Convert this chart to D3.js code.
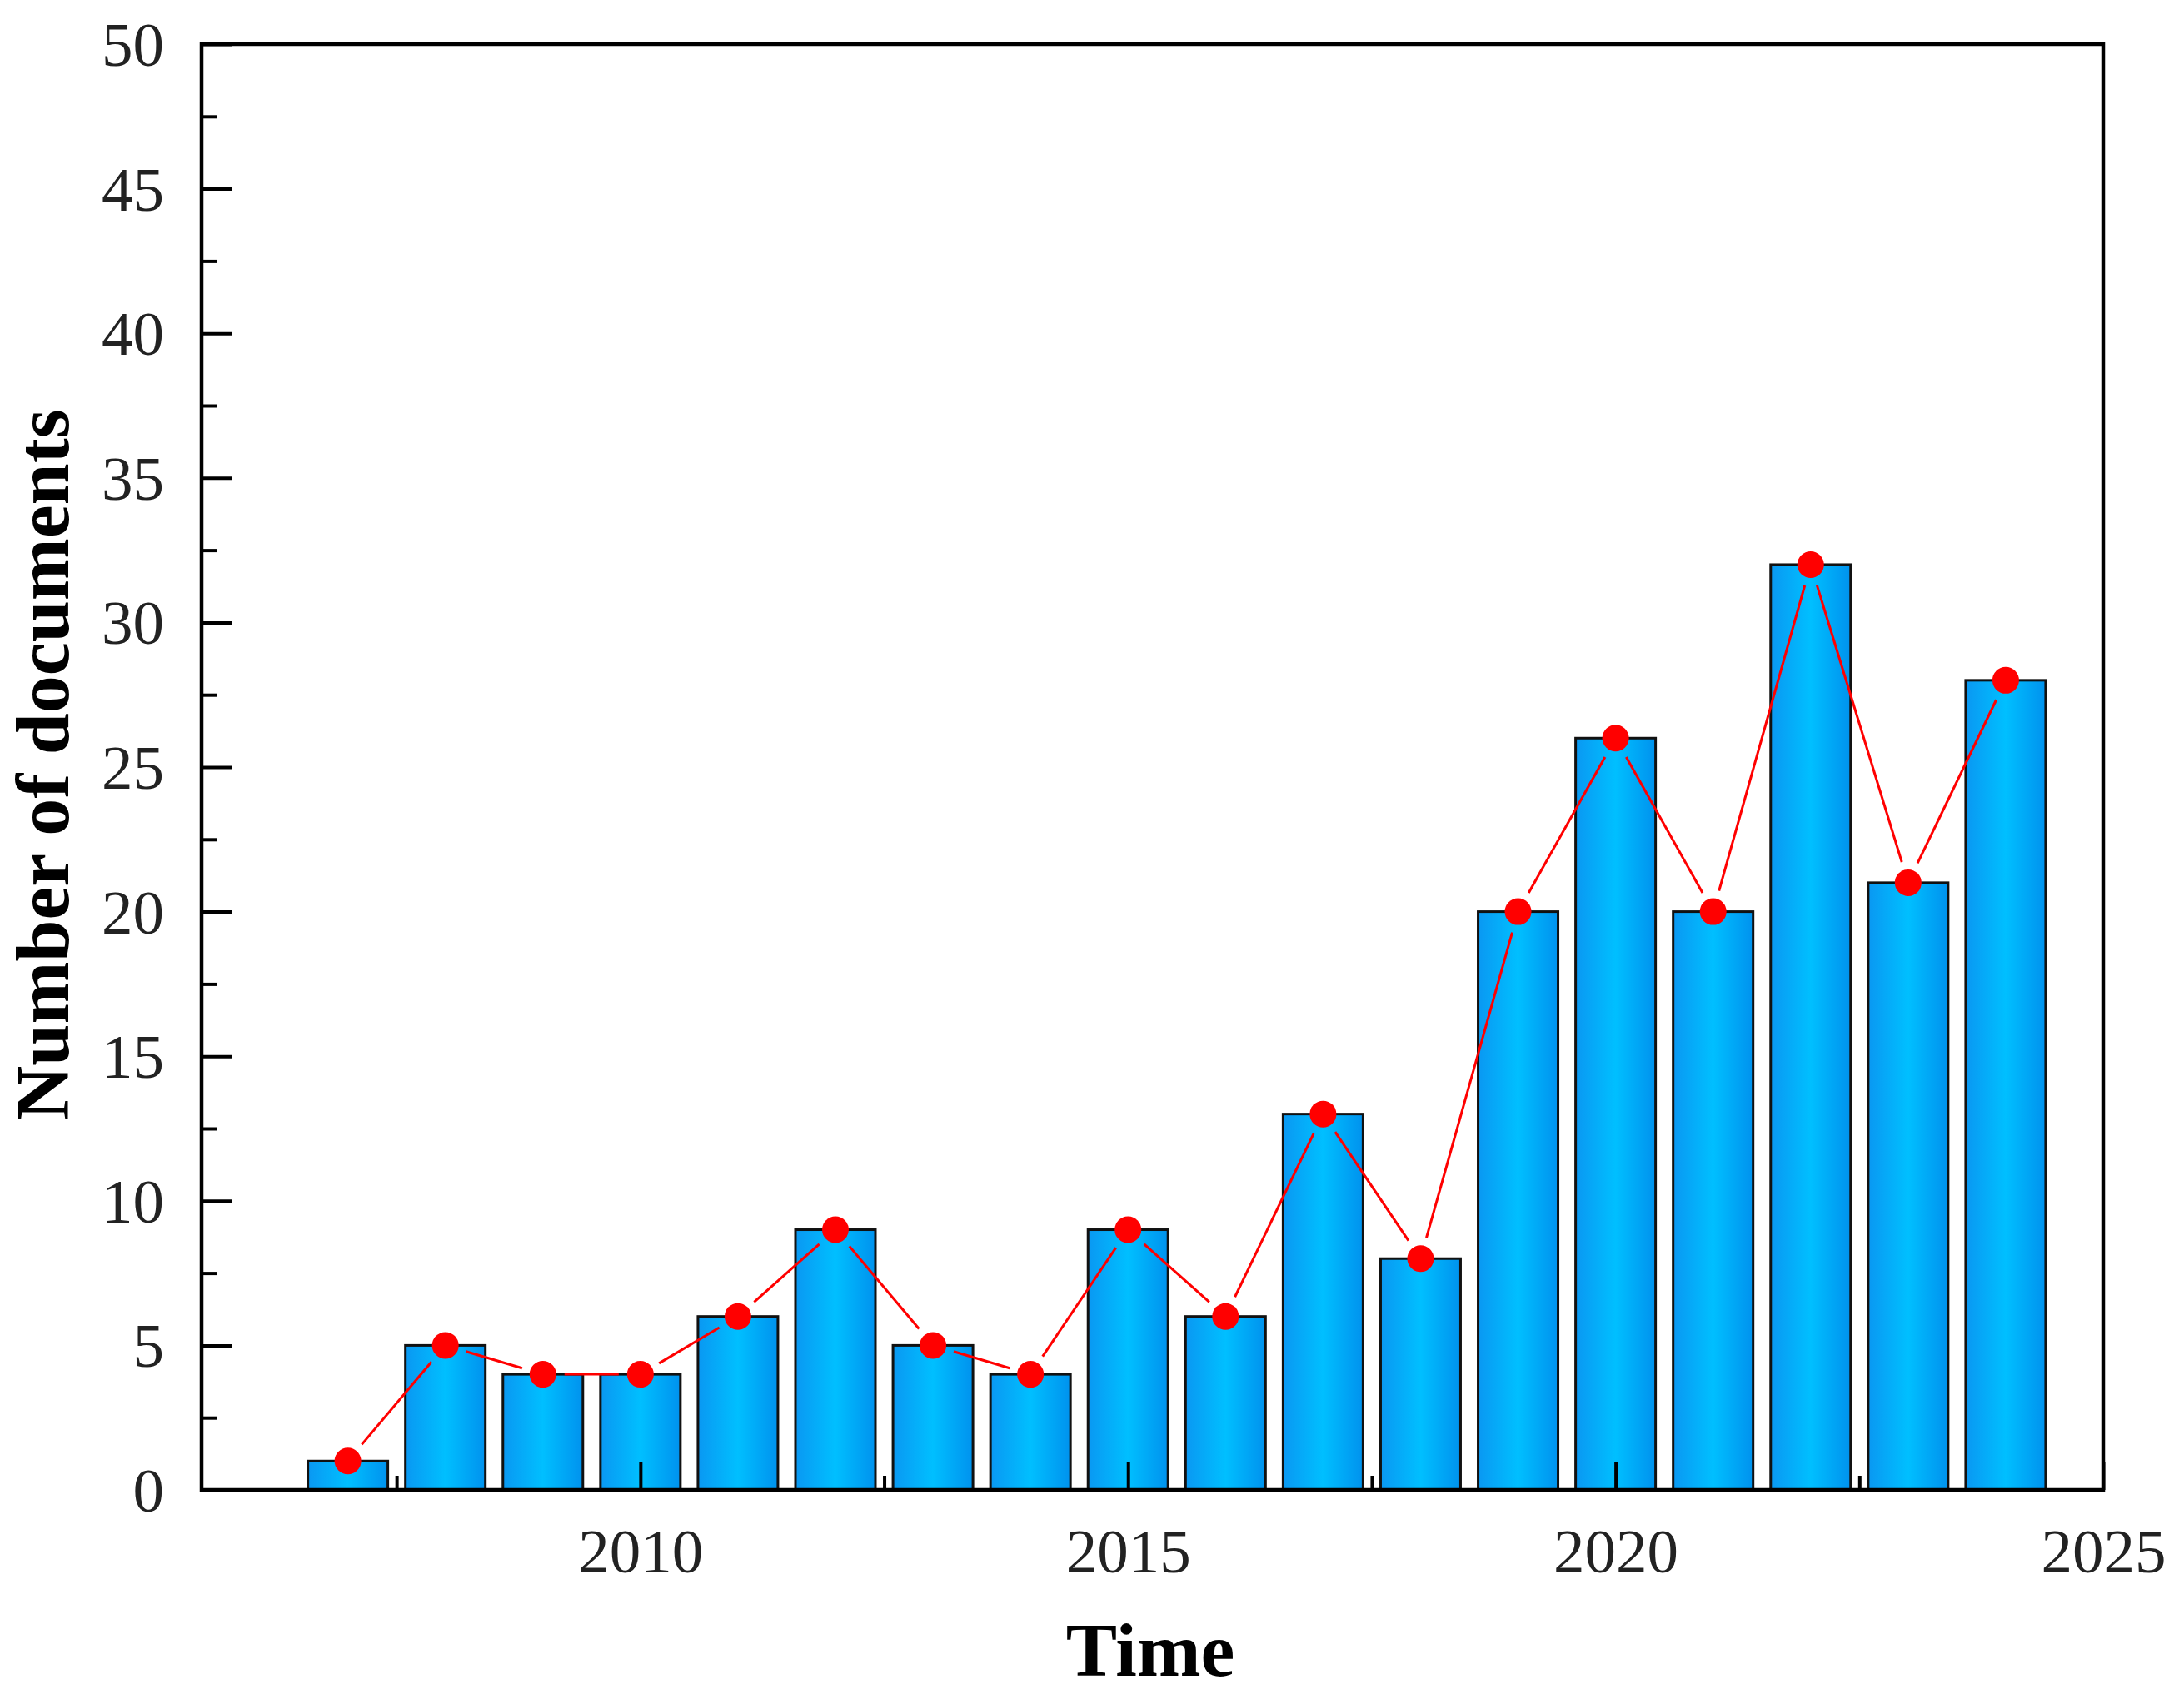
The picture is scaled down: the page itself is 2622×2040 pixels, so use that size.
<!DOCTYPE html>
<html>
<head>
<meta charset="utf-8">
<script src="https://cdn.jsdelivr.net/npm/d3@7"></script>
<style>
  body { margin: 0; background: #fff; }
  svg { display: block; }
</style>
</head>
<body>
<svg width="2622" height="2040"></svg>
<script>
const years = [2007, 2008, 2009, 2010, 2011, 2012, 2013, 2014, 2015, 2016, 2017, 2018, 2019, 2020, 2021, 2022, 2023, 2024];
const counts = [1, 5, 4, 4, 6, 9, 5, 4, 9, 6, 13, 8, 20, 26, 20, 32, 21, 28];
const xMajorTicks = [2010, 2015, 2020, 2025];
const xMinorTicks = [2007.5, 2012.5, 2017.5, 2022.5];
const yMajorTicks = [0, 5, 10, 15, 20, 25, 30, 35, 40, 45, 50];
const yMinorTicks = [2.5, 7.5, 12.5, 17.5, 22.5, 27.5, 32.5, 37.5, 42.5, 47.5];

const xAxisLabelText = 'Time';
const yAxisLabelText = 'Number of documents';

const svg = d3.select('svg');

const margin = { top: 53, right: 97, bottom: 251, left: 242 };
const width = +svg.attr('width');
const height = +svg.attr('height');
const innerWidth = width - margin.left - margin.right;
const innerHeight = height - margin.top - margin.bottom;

const data = years.map((y, i) => ({ year: y, count: counts[i] }));

const xScale = d3.scaleLinear()
    .domain([2005.5, 2025])
    .range([0, innerWidth]);

const yScale = d3.scaleLinear()
    .domain([0, 50])
    .range([innerHeight, 0]);

const barWidth = (xScale(1) - xScale(0)) * 0.82;

// bar gradient, darker at the sides
const defs = svg.append('defs');
const grad = defs.append('linearGradient')
    .attr('id', 'barGrad')
    .attr('x1', '0%').attr('x2', '100%')
    .attr('y1', '0%').attr('y2', '0%');
grad.append('stop').attr('offset', '0%').attr('stop-color', '#0a98f2');
grad.append('stop').attr('offset', '50%').attr('stop-color', '#00bfff');
grad.append('stop').attr('offset', '100%').attr('stop-color', '#0092ee');

const g = svg.append('g')
    .attr('transform', `translate(${margin.left},${margin.top})`);

// bars
g.selectAll('rect.bar')
    .data(data)
    .enter()
    .append('rect')
    .attr('class', 'bar')
    .attr('x', d => xScale(d.year) - barWidth / 2)
    .attr('y', d => yScale(d.count))
    .attr('width', barWidth)
    .attr('height', d => innerHeight - yScale(d.count))
    .attr('fill', 'url(#barGrad)')
    .attr('stroke', '#111')
    .attr('stroke-width', 3);

// red line, broken a little around each marker
const gap = 26;
const segs = d3.pairs(data).map(([a, b]) => {
    const x1 = xScale(a.year), y1 = yScale(a.count);
    const x2 = xScale(b.year), y2 = yScale(b.count);
    const len = Math.hypot(x2 - x1, y2 - y1);
    const ux = (x2 - x1) / len, uy = (y2 - y1) / len;
    return { x1: x1 + ux * gap, y1: y1 + uy * gap, x2: x2 - ux * gap, y2: y2 - uy * gap };
});

g.selectAll('line.seg')
    .data(segs)
    .enter()
    .append('line')
    .attr('class', 'seg')
    .attr('x1', d => d.x1)
    .attr('y1', d => d.y1)
    .attr('x2', d => d.x2)
    .attr('y2', d => d.y2)
    .attr('stroke', '#ff0000')
    .attr('stroke-width', 3);

g.selectAll('circle.dot')
    .data(data)
    .enter()
    .append('circle')
    .attr('class', 'dot')
    .attr('cx', d => xScale(d.year))
    .attr('cy', d => yScale(d.count))
    .attr('r', 16)
    .attr('fill', '#ff0000');

// axes: ticks point inward
const tickFont = '"Liberation Serif", "Times New Roman", serif';

const xAxisG = g.append('g')
    .attr('transform', `translate(0,${innerHeight})`)
    .call(d3.axisBottom(xScale)
        .tickValues(xMajorTicks)
        .tickSizeInner(-34)
        .tickSizeOuter(0)
        .tickPadding(50)
        .tickFormat(d3.format('d')));
xAxisG.select('.domain').remove();
xAxisG.selectAll('.tick line').attr('stroke', '#000').attr('stroke-width', 4);
xAxisG.selectAll('text')
    .attr('y', 99)
    .attr('dy', 0)
    .attr('fill', '#222')
    .style('font-family', tickFont)
    .style('font-size', '75px');

const xMinorG = g.append('g')
    .attr('transform', `translate(0,${innerHeight})`)
    .call(d3.axisBottom(xScale)
        .tickValues(xMinorTicks)
        .tickSizeInner(-17)
        .tickSizeOuter(0)
        .tickFormat(''));
xMinorG.select('.domain').remove();
xMinorG.selectAll('.tick line').attr('stroke', '#000').attr('stroke-width', 4);

const yAxisG = g.append('g')
    .call(d3.axisLeft(yScale)
        .tickValues(yMajorTicks)
        .tickSizeInner(-36)
        .tickSizeOuter(0)
        .tickPadding(45));
yAxisG.select('.domain').remove();
yAxisG.selectAll('.tick line').attr('stroke', '#000').attr('stroke-width', 4);
yAxisG.selectAll('text')
    .attr('dy', '0.34em')
    .attr('fill', '#222')
    .style('font-family', tickFont)
    .style('font-size', '75px');

const yMinorG = g.append('g')
    .call(d3.axisLeft(yScale)
        .tickValues(yMinorTicks)
        .tickSizeInner(-19)
        .tickSizeOuter(0)
        .tickFormat(''));
yMinorG.select('.domain').remove();
yMinorG.selectAll('.tick line').attr('stroke', '#000').attr('stroke-width', 4);

// frame
g.append('rect')
    .attr('x', 0)
    .attr('y', 0)
    .attr('width', innerWidth)
    .attr('height', innerHeight)
    .attr('fill', 'none')
    .attr('stroke', '#000')
    .attr('stroke-width', 4.5);

// axis titles
g.append('text')
    .attr('x', innerWidth / 2 + 1381 - margin.left - innerWidth / 2)
    .attr('y', innerHeight + 223)
    .attr('fill', '#000')
    .style('text-anchor', 'middle')
    .style('font-family', tickFont)
    .style('font-weight', 'bold')
    .style('font-size', '92px')
    .text(xAxisLabelText);

g.append('text')
    .attr('transform', 'rotate(-90)')
    .attr('x', -(918 - margin.top))
    .attr('y', 82 - margin.left)
    .attr('fill', '#000')
    .style('text-anchor', 'middle')
    .style('font-family', tickFont)
    .style('font-weight', 'bold')
    .style('font-size', '90px')
    .text(yAxisLabelText);
</script>
</body>
</html>
